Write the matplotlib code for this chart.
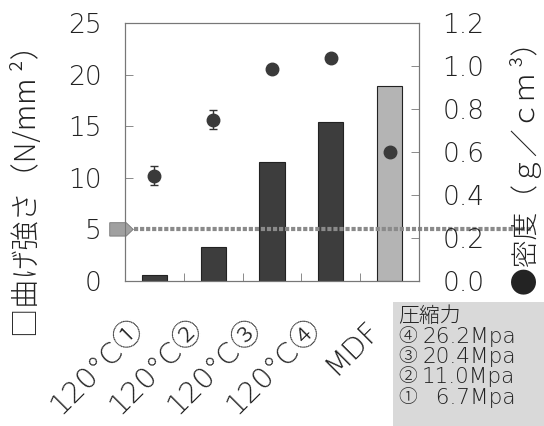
import numpy as np
import matplotlib
matplotlib.use('Agg')
from matplotlib import pyplot as plt
from matplotlib.patches import Polygon, Rectangle
import matplotlib.transforms as mtransforms

plt.rcParams['font.family'] = ['DejaVu Sans', 'Noto Sans CJK JP']
cjk = ['Noto Sans CJK JP', 'DejaVu Sans']

# data
categories = ['120°C①', '120°C②', '120°C③', '120°C④', 'MDF']
strength = [0.6, 3.3, 11.5, 15.4, 18.9]          # N/mm2 (bars, left axis)
density = [0.49, 0.75, 0.985, 1.035, 0.60]       # g/cm3 (points, right axis)
density_err = [0.045, 0.045, 0.01, 0.012, 0.0]
target_strength = 5
legend_title = '圧縮力'
legend_marks = ['④', '③', '②', '①']
legend_values = ['26.2Mpa', '20.4Mpa', '11.0Mpa', '  6.7Mpa']

bar_colors = ['#3d3d3d', '#3d3d3d', '#3d3d3d', '#3d3d3d', '#b4b4b4']
frame_col = '#777777'
text_col = '#222222'
circled = '①②③④'

fig = plt.figure(figsize=(5.44, 4.26), dpi=100)
ax = fig.add_axes([0.2298, 0.3404, 0.5404, 0.6056])
x = np.arange(len(categories))

ax.bar(x, strength, width=0.43, color=bar_colors, edgecolor='#222222', linewidth=0.8, zorder=2)
ax.set_xlim(-0.5, len(categories) - 0.5)
ax.set_ylim(0, 25)
ax.set_yticks([0, 5, 10, 15, 20, 25])

# reference line with arrow marker
ax.axhline(target_strength, xmin=0.03, xmax=1.38, color='#8a8a8a', lw=3,
           dashes=(1.0, 0.45), clip_on=False, zorder=3)
trans = mtransforms.blended_transform_factory(ax.transAxes, ax.transData)
arrow = Polygon([[-0.052, target_strength - 0.65], [0.004, target_strength - 0.65],
                 [0.028, target_strength], [0.004, target_strength + 0.65],
                 [-0.052, target_strength + 0.65]], closed=True, transform=trans,
                facecolor='#a0a0a0', edgecolor='#777777', lw=0.6, clip_on=False, zorder=4)
ax.add_patch(arrow)

ax2 = ax.twinx()
ax2.errorbar(x, density, yerr=density_err, fmt='o', color='#3a3a3a', ms=9,
             ecolor='#333333', elinewidth=1.0, capsize=3, zorder=5)
ax2.set_ylim(0, 1.2)
ax2.set_yticks([0.0, 0.2, 0.4, 0.6, 0.8, 1.0, 1.2])
ax2.set_yticklabels([f'{v:.1f}' for v in [0.0, 0.2, 0.4, 0.6, 0.8, 1.0, 1.2]])

for a in (ax, ax2):
    for s in a.spines.values():
        s.set_color(frame_col)
        s.set_linewidth(0.8)

ax.tick_params(axis='y', direction='in', length=6, width=0.6, color=frame_col,
               labelsize=19, pad=17, labelcolor=text_col)
ax2.tick_params(axis='y', direction='in', length=6, width=0.6, color=frame_col,
                labelsize=19, pad=17, labelcolor=text_col)
for lab in ax.get_yticklabels() + ax2.get_yticklabels():
    lab.set_fontweight(200)

# x labels: base text plus a larger circled digit, both rotated 45 degrees
ax.set_xticks(x)
ax.set_xticklabels([])
ax.tick_params(axis='x', which='major', length=0)
ax.set_xticks(x[:-1] + 0.5, minor=True)
ax.tick_params(axis='x', which='minor', direction='in', length=6, width=0.6, color=frame_col)

end_dx, end_dy = -15, -44      # end of each label relative to its category, pixels
circ_w = 29                    # length of the circled digit along the text, pixels
for i, name in enumerate(categories):
    base, mark = (name[:-1], name[-1]) if name[-1] in circled else (name, '')
    ox, oy = end_dx, end_dy
    if mark:
        ax.annotate(mark, xy=(i, 0), xycoords=('data', 'axes fraction'),
                    xytext=(ox * 0.72, oy * 0.72), textcoords='offset points',
                    rotation=45, rotation_mode='anchor', ha='right', va='center',
                    fontsize=21, family=cjk, fontweight='light', color=text_col,
                    annotation_clip=False)
        ox -= circ_w * 0.7071
        oy -= circ_w * 0.7071
    ax.annotate(base, xy=(i, 0), xycoords=('data', 'axes fraction'),
                xytext=(ox * 0.72, oy * 0.72), textcoords='offset points',
                rotation=45, rotation_mode='anchor', ha='right', va='center',
                fontsize=21, fontweight=200, color=text_col, annotation_clip=False)

# axis titles
fig.text(28 / 544, 1 - 184 / 426, '□曲げ強さ（N/mm ²）', rotation=90, ha='center', va='center',
         fontsize=21, family=cjk, fontweight='light', color=text_col)
fig.text(526 / 544, 1 - 161 / 426, '●密度（ｇ／ｃｍ ³）', rotation=90, ha='center', va='center',
         fontsize=20, family=cjk, fontweight='light', color=text_col)

# legend box
fig.patches.append(Rectangle((393 / 544, 0), 151 / 544, 124 / 426, transform=fig.transFigure,
                             facecolor='#d9d9d9', edgecolor='none', zorder=0))
fig.text(398 / 544, 1 - 316 / 426, legend_title, ha='left', va='center',
         fontsize=15, family=cjk, fontweight='light', color=text_col)
for i, (mark, val) in enumerate(zip(legend_marks, legend_values)):
    yy = 1 - (337 + 20.2 * i) / 426
    fig.text(398 / 544, yy, mark, ha='left', va='center', fontsize=13.5, family=cjk,
             fontweight='light', color=text_col)
    fig.text(422 / 544, yy, val, ha='left', va='center', fontsize=15.5,
             fontweight=200, color=text_col)

plt.savefig('out.png', dpi=100)
plt.close()
